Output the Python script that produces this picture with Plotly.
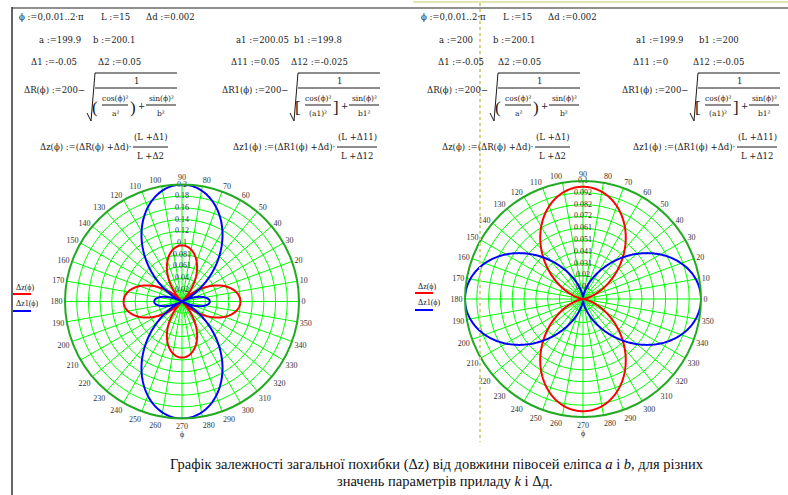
import numpy as np
import plotly.graph_objects as go

W, H = 788, 495

# ---------------- data: values shown on the Mathcad sheet ----------------
phi_start, phi_step, phi_end = 0.0, 0.01, 2 * np.pi
L_val = 15
dd_val = 0.002

left_a, left_b = 199.9, 200.1
left_a1, left_b1 = 200.05, 199.8
left_d1, left_d2 = -0.05, 0.05
left_d11, left_d12 = 0.05, -0.025

right_a, right_b = 200, 200.1
right_a1, right_b1 = 199.9, 200
right_d1, right_d2 = -0.05, 0.05
right_d11, right_d12 = 0, -0.05

angle_ticks = list(range(0, 360, 10))
angle_labels = [str(v) for v in angle_ticks]

left_radial_ticks = [0.0203, 0.0406, 0.0609, 0.0812, 0.1015, 0.1218, 0.1421, 0.1624, 0.1827, 0.203]
left_radial_labels = ["0.02", "0.04", "0.061", "0.081", "0.1", "0.12", "0.14", "0.16", "0.18", "0.2"]
right_radial_ticks = [0.01023, 0.02047, 0.0307, 0.04094, 0.05117, 0.0614, 0.07164, 0.08187, 0.0921, 0.10234]
right_radial_labels = ["0.01", "0.02", "0.031", "0.041", "0.051", "0.061", "0.072", "0.082", "0.092", "0.1"]

caption_1 = "Графік залежності загальної похибки (Δz) від довжини півосей еліпса <i>a</i> і <i>b</i>, для різних"
caption_2 = "значень параметрів приладу <i>k</i> і Δд."

# ---------------- the sheet's formulas ----------------
phi = np.arange(phi_start, phi_end + 1e-9, phi_step)


def dz(a, b, d1, d2):
    dR = 200 - np.sqrt(1.0 / (np.cos(phi) ** 2 / a ** 2 + np.sin(phi) ** 2 / b ** 2))
    return (dR + dd_val) * (L_val + d1) / (L_val + d2)


theta_deg = np.degrees(phi)
left_z = np.abs(dz(left_a, left_b, left_d1, left_d2))
left_z1 = np.abs(dz(left_a1, left_b1, left_d11, left_d12))
right_z = np.abs(dz(right_a, right_b, right_d1, right_d2))
right_z1 = np.abs(dz(right_a1, right_b1, right_d11, right_d12))

# ---------------- styles ----------------
MC_FONT = "DejaVu Serif, Liberation Serif, serif"
SERIF = "Liberation Serif, Times New Roman, serif"
TXT = "#1a1a1a"
GRID = "#00ff00"
RIM = "#22aa22"
RED = "#ff0000"
BLUE = "#0000ff"

annotations = []
shapes = []


def px(x):
    return x / W


def py(y):
    return 1 - y / H


def txt(x, y, s, size=8.5, anchor="left", family=MC_FONT, color=TXT):
    annotations.append(dict(x=px(x), y=py(y), xref="paper", yref="paper", text=s,
                            showarrow=False, xanchor=anchor, yanchor="middle",
                            borderpad=0,
                            font=dict(family=family, size=size, color=color)))


def seg(x0, y0, x1, y1, color=TXT, width=1, dash="solid"):
    shapes.append(dict(type="line", xref="paper", yref="paper",
                       x0=px(x0), y0=py(y0), x1=px(x1), y1=py(y1),
                       line=dict(color=color, width=width, dash=dash)))


def fmt(v):
    return str(v)


# ---------------- header definitions ----------------
def header(a, b, a1, b1, d1, d2, d11, d12, xs):
    txt(xs[0], 17, "ϕ :=0,0.01..2·π")
    txt(xs[1], 17, "L :=" + fmt(L_val))
    txt(xs[2], 17, "Δd :=" + fmt(dd_val))
    txt(xs[3], 40, "a :=" + fmt(a))
    txt(xs[4], 40, "b :=" + fmt(b))
    txt(xs[5], 40, "a1 :=" + fmt(a1))
    txt(xs[6], 40, "b1 :=" + fmt(b1))
    txt(xs[7], 62, "Δ1 :=" + fmt(d1))
    txt(xs[8], 62, "Δ2 :=" + fmt(d2))
    txt(xs[9], 62, "Δ11 :=" + fmt(d11))
    txt(xs[10], 62, "Δ12 :=" + fmt(d12))


def block_dR(r0, name, den_a, bracket_l, bracket_r, den_b, width=90):
    # r0: x where the radical sign starts
    txt(r0 - 1, 90, name + "(ϕ) :=200−", anchor="right")
    end = r0 + width
    top = r0 + 8
    seg(r0, 113, r0 + 4, 121, width=1)
    seg(r0 + 4, 121, r0 + 8, 73, width=1)
    seg(r0 + 8, 73, end, 73, width=1)
    txt((top + end) / 2, 81, "1", anchor="center")
    seg(top, 88, end, 88, width=1)
    # first fraction
    c1 = top + 20
    txt(top + 4, 107, bracket_l, size=17, anchor="right", family=SERIF)
    txt(c1, 99, "cos(ϕ)²", anchor="center", size=7.5)
    seg(c1 - 13, 105, c1 + 13, 105, width=1)
    txt(c1, 113, den_a, anchor="center", size=7.5)
    txt(c1 + 14, 107, bracket_r, size=17, anchor="left", family=SERIF)
    txt(c1 + 26, 106, "+", anchor="center")
    c2 = end - 16
    txt(c2, 99, "sin(ϕ)²", anchor="center", size=7.5)
    seg(c2 - 15, 105, c2 + 15, 105, width=1)
    txt(c2, 113, den_b, anchor="center", size=7.5)


def block_dz(f0, name, rname, n1, n2, half):
    # f0: x where the fraction bar starts
    txt(f0 - 1, 147, name + "(ϕ) :=(" + rname + "(ϕ) +Δd)·", anchor="right")
    c = f0 + half
    txt(c, 137, "(L +" + n1 + ")", anchor="center")
    seg(f0, 147, f0 + 2 * half, 147, width=1)
    txt(c, 156, "L +" + n2, anchor="center")


header(left_a, left_b, left_a1, left_b1, left_d1, left_d2, left_d11, left_d12,
       [18, 100, 145, 38, 92, 235, 293, 30, 97, 230, 290])
header(right_a, right_b, right_a1, right_b1, right_d1, right_d2, right_d11, right_d12,
       [420, 502, 547, 438, 492, 635, 698, 437, 497, 632, 692])

block_dR(87, "ΔR", "a²", "(", ")", "b²")
block_dR(290, "ΔR1", "(a1)²", "[", "]", "b1²")
block_dR(490, "ΔR", "a²", "(", ")", "b²")
block_dR(690, "ΔR1", "(a1)²", "[", "]", "b1²")

block_dz(133, "Δz", "ΔR", "Δ1", "Δ2", 17.5)
block_dz(337, "Δz1", "ΔR1", "Δ11", "Δ12", 20)
block_dz(535, "Δz", "ΔR", "Δ1", "Δ2", 17.5)
block_dz(737, "Δz1", "ΔR1", "Δ11", "Δ12", 20)

# ---------------- legends, axis titles ----------------
for lx, ly in [(15, 287), (417, 286)]:
    txt(lx, ly, "Δz(ϕ)", size=8, family=SERIF)
    seg(lx - 2, ly + 7, lx + 16, ly + 7, color=RED, width=2)
    txt(lx, ly + 16, "Δz1(ϕ)", size=8, family=SERIF)
    seg(lx - 2, ly + 24, lx + 16, ly + 24, color=BLUE, width=2)

txt(182, 434, "ϕ", size=8, anchor="center", family=SERIF)
txt(583, 433, "ϕ", size=8, anchor="center", family=SERIF)

# ---------------- caption ----------------
txt(437, 464, caption_1, size=14.5, anchor="center", family=SERIF, color="#111")
txt(445, 481, caption_2, size=14.5, anchor="center", family=SERIF, color="#111")

# ---------------- page frame ----------------
seg(12, 7, 12, 495, color="#333", width=1.5)
seg(12, 8, 788, 8, color="#222", width=1)
seg(413, 2, 788, 2, color="#e4e4b0", width=2)
seg(480, 3, 480, 442, color="#d4d48a", width=2, dash="dot")

# ---------------- polar plots ----------------
fig = go.Figure()


def polar_layout(cx, cy, R, rmax, ticks):
    return dict(
        domain=dict(x=[px(cx - R), px(cx + R)], y=[py(cy + R), py(cy - R)]),
        bgcolor="white",
        radialaxis=dict(range=[0, rmax], tickmode="array", tickvals=ticks,
                        showticklabels=False, ticks="", showline=False,
                        gridcolor=GRID, gridwidth=1, angle=90),
        angularaxis=dict(tickmode="array", tickvals=angle_ticks, ticktext=angle_labels,
                         direction="counterclockwise", rotation=0, ticks="",
                         gridcolor=GRID, gridwidth=1, showline=True,
                         linecolor=RIM, linewidth=2,
                         tickfont=dict(family=SERIF, size=8, color="#333")),
    )


for sub, ticks, labels, z, z1 in [
    ("polar", left_radial_ticks, left_radial_labels, left_z, left_z1),
    ("polar2", right_radial_ticks, right_radial_labels, right_z, right_z1),
]:
    fig.add_trace(go.Scatterpolar(r=ticks, theta=[90] * len(ticks), mode="text", text=labels,
                                  textposition="middle center",
                                  textfont=dict(family=SERIF, size=8, color="#333"),
                                  subplot=sub, showlegend=False, hoverinfo="skip"))
    fig.add_trace(go.Scatterpolar(r=z, theta=theta_deg, mode="lines",
                                  line=dict(color=RED, width=2), subplot=sub,
                                  name="Δz(ϕ)", showlegend=False))
    fig.add_trace(go.Scatterpolar(r=z1, theta=theta_deg, mode="lines",
                                  line=dict(color=BLUE, width=2), subplot=sub,
                                  name="Δz1(ϕ)", showlegend=False))

fig.update_layout(
    width=W, height=H,
    margin=dict(l=0, r=0, t=0, b=0),
    paper_bgcolor="white",
    plot_bgcolor="white",
    showlegend=False,
    polar=polar_layout(182, 301.5, 117, left_radial_ticks[-1], left_radial_ticks),
    polar2=polar_layout(583, 299, 118, right_radial_ticks[-1], right_radial_ticks),
    annotations=annotations,
    shapes=shapes,
)

fig.write_html("out.html",
               config={"displayModeBar": False},
               post_script="document.body.style.margin='0';document.body.style.padding='0';")
